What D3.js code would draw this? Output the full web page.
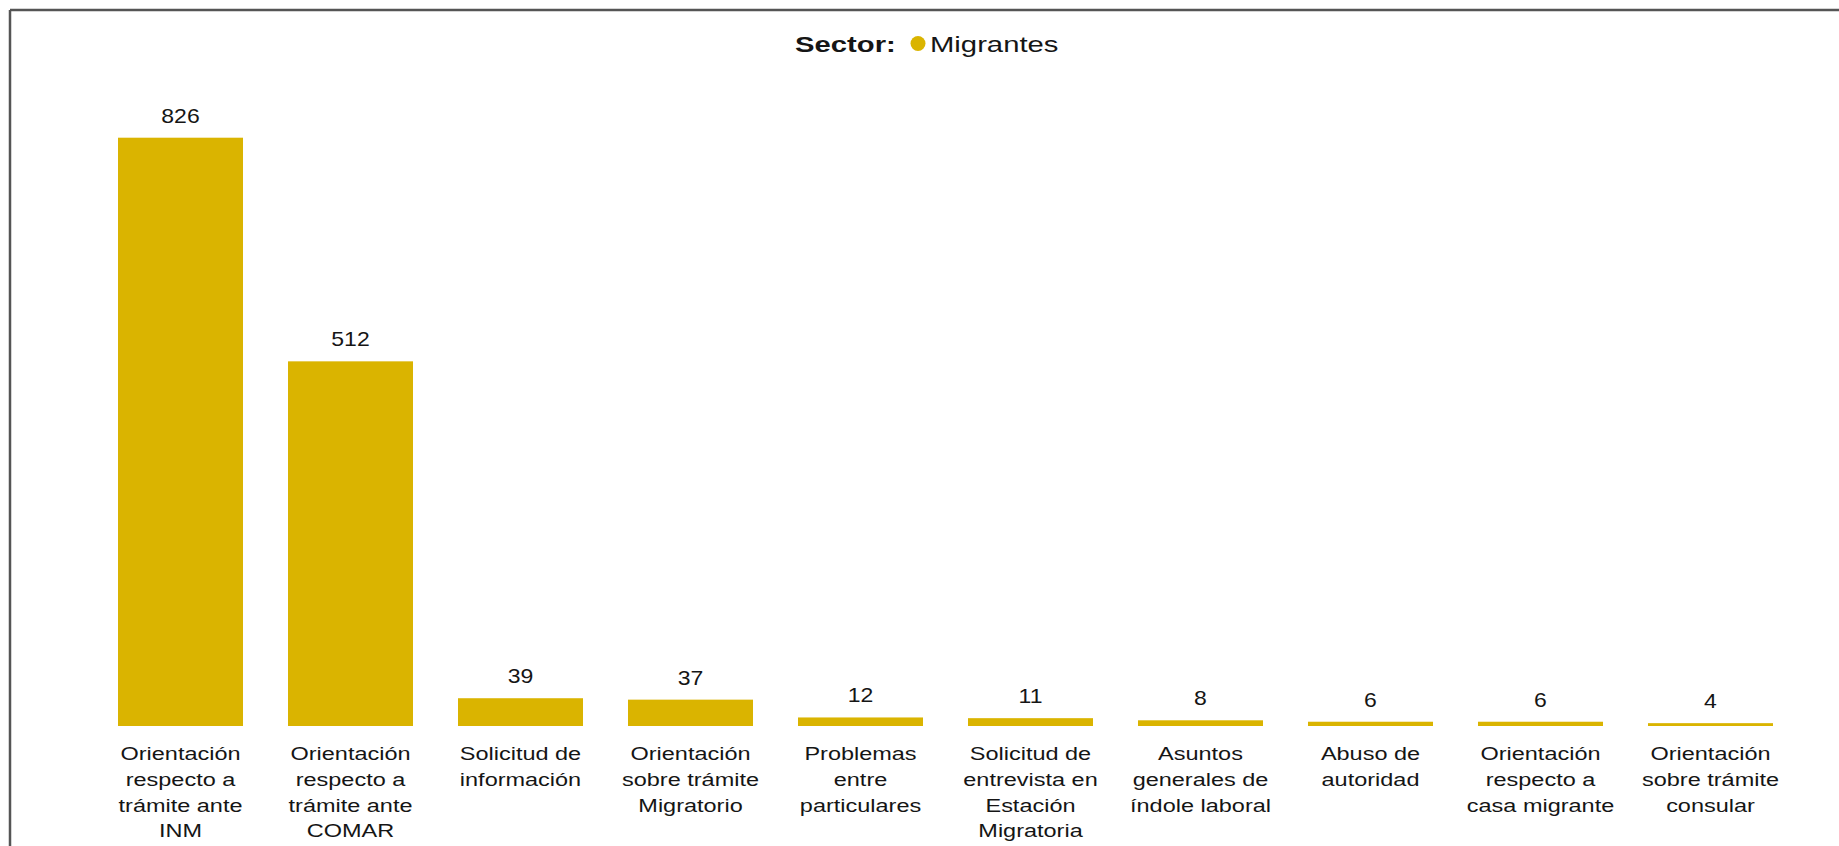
<!DOCTYPE html>
<html>
<head>
<meta charset="utf-8">
<script src="https://cdn.jsdelivr.net/npm/d3@7"></script>
<style>
  html, body { margin: 0; padding: 0; background: #fff; }
  svg { display: block; font-family: "Liberation Sans", Arial, sans-serif; }
</style>
</head>
<body>
<svg id="chart" width="1839" height="846"></svg>
<script>
const categories = [
  "Orientación\nrespecto a\ntrámite ante\nINM",
  "Orientación\nrespecto a\ntrámite ante\nCOMAR",
  "Solicitud de\ninformación",
  "Orientación\nsobre trámite\nMigratorio",
  "Problemas\nentre\nparticulares",
  "Solicitud de\nentrevista en\nEstación\nMigratoria",
  "Asuntos\ngenerales de\níndole laboral",
  "Abuso de\nautoridad",
  "Orientación\nrespecto a\ncasa migrante",
  "Orientación\nsobre trámite\nconsular"
];
const values = [826, 512, 39, 37, 12, 11, 8, 6, 6, 4];
const legendTitle = "Sector:";
const seriesName = "Migrantes";

const color = "#DAB400";
const ink = "#151515";
const svg = d3.select("#chart");

// frame (top and left edges)
svg.append("line").attr("x1", 10).attr("x2", 1839).attr("y1", 10).attr("y2", 10)
  .attr("stroke", "#555").attr("stroke-width", 2.5);
svg.append("line").attr("x1", 10).attr("x2", 10).attr("y1", 10).attr("y2", 846)
  .attr("stroke", "#555").attr("stroke-width", 2.5);

const x = d3.scaleBand().domain(categories).range([95.5, 1795.5])
  .paddingInner(0.2647).paddingOuter(0.1324);
const y = d3.scaleLinear().domain([0, 826]).range([726, 137.7]);

const data = categories.map((c, i) => ({ c, v: values[i] }));

svg.append("g").selectAll("rect").data(data).join("rect")
  .attr("x", d => x(d.c))
  .attr("width", x.bandwidth())
  .attr("y", d => y(d.v))
  .attr("height", d => y(0) - y(d.v))
  .attr("fill", color);

svg.append("g").selectAll("text").data(data).join("text")
  .attr("transform", d => `translate(${x(d.c) + x.bandwidth() / 2},${y(d.v) - 15}) scale(1.15,1)`)
  .attr("text-anchor", "middle")
  .attr("font-size", 20)
  .attr("fill", ink)
  .text(d => d.v);

// x axis labels via d3 axis
const xAxis = svg.append("g").attr("transform", `translate(0,${y(0)})`)
  .call(d3.axisBottom(x).tickSize(0).tickFormat(""));
xAxis.select(".domain").remove();
xAxis.selectAll(".tick").each(function(d) {
  const t = d3.select(this).append("text")
    .attr("transform", "scale(1.27,1)")
    .attr("text-anchor", "middle")
    .attr("font-size", 18.5)
    .attr("fill", ink);
  d.split("\n").forEach((line, i) => {
    t.append("tspan").attr("x", 0).attr("y", 34.5 + i * 25.6).text(line);
  });
});

// legend
const lg = svg.append("g").attr("transform", "translate(0,51.5)");
lg.append("text").attr("transform", "translate(795,0) scale(1.33,1)").attr("font-size", 22)
  .attr("font-weight", "bold").attr("fill", ink).text(legendTitle);
lg.append("circle").attr("cx", 918).attr("cy", -8).attr("r", 7.5).attr("fill", color);
lg.append("text").attr("transform", "translate(930,0) scale(1.33,1)").attr("font-size", 22)
  .attr("fill", ink).text(seriesName);
</script>
</body>
</html>
